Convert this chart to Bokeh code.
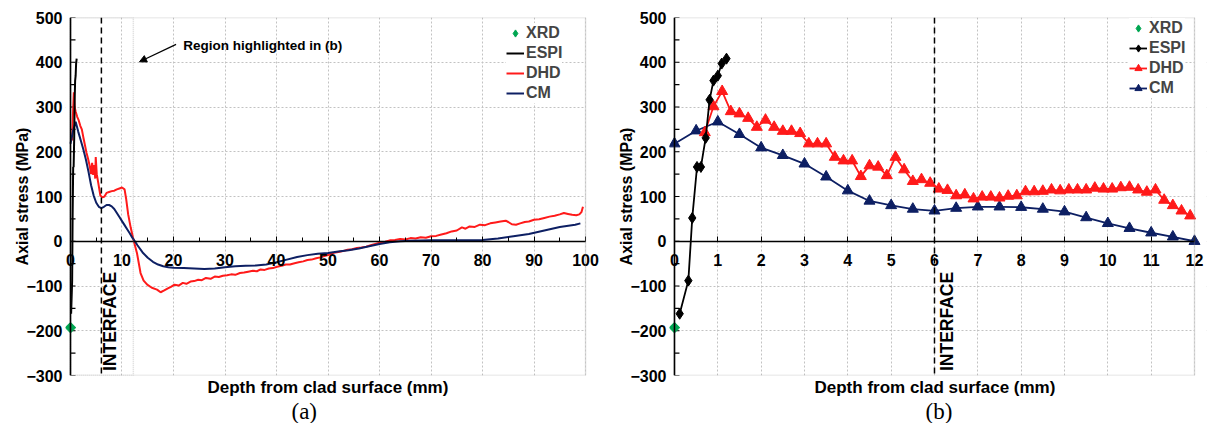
from bokeh.plotting import figure
from bokeh.models import (Span, Label, Legend, LegendItem, Arrow, NormalHead,
                          SingleIntervalTicker, BoxAnnotation, Title)
from bokeh.layouts import row
from bokeh.embed import file_html
from bokeh.resources import INLINE

# ---------------- data ----------------
xrd_depth = [0.0]
xrd_stress = [-193]

espi_depth = [0.12, 0.32, 0.41, 0.52, 0.61, 0.72, 0.81, 0.90, 1.00, 1.09, 1.20]
espi_stress = [-162, -88, 52, 166, 166, 231, 316, 359, 370, 397, 408]

# panel (b) DHD (every 0.2 mm)
dhd_b_depth = [0.7, 0.9, 1.1, 1.3, 1.5, 1.7, 1.9, 2.1, 2.3, 2.5,
               2.7, 2.9, 3.1, 3.3, 3.5, 3.7, 3.9, 4.1, 4.3, 4.5,
               4.7, 4.9, 5.1, 5.3, 5.5, 5.7, 5.9, 6.1, 6.3, 6.5,
               6.7, 6.9, 7.1, 7.3, 7.5, 7.7, 7.9, 8.1, 8.3, 8.5,
               8.7, 8.9, 9.1, 9.3, 9.5, 9.7, 9.9, 10.1, 10.3, 10.5,
               10.7, 10.9, 11.1, 11.3, 11.5, 11.7, 11.9]
dhd_b_stress = [243, 301, 335, 290, 285, 275, 255, 271, 255, 246,
                246, 241, 218, 218, 218, 188, 180, 180, 145, 169,
                166, 147, 188, 160, 134, 138, 130, 117, 114, 102,
                104, 95, 99, 99, 97, 101, 102, 111, 111, 112,
                115, 113, 115, 115, 115, 119, 117, 117, 120, 121,
                115, 110, 115, 92, 80, 68, 57]

# panel (b) CM (every 0.5 mm)
cm_b_depth = [0.0, 0.5, 1.0, 1.5, 2.0, 2.5, 3.0, 3.5, 4.0, 4.5, 5.0, 5.5, 6.0,
              6.5, 7.0, 7.5, 8.0, 8.5, 9.0, 9.5, 10.0, 10.5, 11.0, 11.5, 12.0]
cm_b_stress = [218, 247, 267, 239, 209, 192, 173, 144, 113, 90, 80, 72, 68,
               74, 77, 77, 76, 72, 66, 53, 40, 29, 19, 10, 0]

# panel (a) DHD (full depth)
dhd_a_depth = [0.3, 0.5, 0.65, 0.8, 1.0, 1.3, 1.6, 1.9, 2.2, 2.5,
               2.8, 3.1, 3.4, 3.7, 4.0, 4.2, 4.4, 4.6, 4.8, 4.9,
               5.1, 5.4, 5.8, 6.2, 6.6, 7.0, 7.5, 8.0, 8.5, 9.0,
               9.5, 10.0, 10.5, 10.8, 11.2, 11.7, 12.3, 12.9, 13.6, 14.2,
               14.9, 15.8, 16.8, 17.5, 18.2, 19.0, 19.5, 20.2, 21.0, 21.8,
               22.5, 23.3, 24.0, 24.8, 25.5, 26.3, 27.2, 28.0, 28.8, 29.6,
               30.4, 31.2, 32.0, 32.9, 33.7, 34.5, 35.4, 36.2, 36.9, 37.7,
               38.5, 39.3, 40.1, 41.0, 41.8, 42.6, 43.5, 44.3, 45.2, 46.0,
               46.8, 47.7, 48.5, 49.3, 50.2, 51.1, 52.0, 52.9, 53.8, 54.7,
               55.6, 56.5, 57.4, 58.3, 59.2, 60.2, 61.1, 62.0, 63.0, 64.0,
               65.0, 66.0, 67.0, 68.0, 69.0, 70.0, 71.0, 72.0, 73.0, 74.0,
               75.0, 76.0, 76.7, 77.5, 78.5, 79.5, 80.5, 81.5, 82.5, 83.5,
               84.5, 85.0, 85.7, 86.5, 87.3, 88.2, 89.0, 90.0, 91.0, 92.0,
               93.0, 94.0, 95.0, 95.8, 96.6, 97.4, 98.2, 98.8, 99.2, 99.5]
dhd_a_stress = [225, 290, 333, 300, 290, 278, 270, 258, 250, 232,
                215, 198, 185, 170, 150, 175, 148, 170, 140, 188,
                150, 130, 102, 98, 100, 108, 110, 112, 113, 116,
                118, 120, 116, 95, 60, 30, 0, -26, -71, -88,
                -97, -104, -108, -114, -110, -105, -102, -97, -99, -93,
                -95, -90, -89, -86, -87, -82, -84, -79, -80, -77,
                -76, -74, -75, -71, -70, -68, -66, -67, -63, -64,
                -61, -60, -57, -55, -52, -52, -49, -47, -45, -42,
                -41, -38, -36, -33, -30, -26, -24, -22, -19, -18,
                -15, -14, -12, -9, -6, -3, -1, 2, 3, 5,
                4, 7, 6, 9, 8, 11, 12, 15, 18, 22,
                24, 31, 28, 33, 32, 37, 36, 40, 42, 44,
                46, 43, 38, 37, 40, 43, 44, 48, 49, 52,
                55, 57, 60, 63, 61, 59, 58, 60, 65, 77]

# panel (a) CM (full depth)
cm_a_depth = [0, 0.5, 1.0, 1.5, 2.0, 2.5, 3.0, 3.5, 4.0, 4.5,
              5.0, 5.5, 6.0, 6.5, 7.0, 7.5, 8.0, 8.5, 9.0, 9.5,
              10.0, 10.5, 11.0, 11.5, 12.0, 12.5, 13, 14, 15, 16,
              17, 18, 19, 20, 22, 24, 26, 28, 30, 32,
              34, 36, 38, 40, 42, 44, 46, 48, 50, 52,
              54, 56, 58, 60, 62, 64, 66, 70, 75, 80,
              83, 86, 89, 92, 95, 98, 99]
cm_a_stress = [218, 247, 267, 245, 225, 205, 182, 155, 125, 102,
               86, 77, 74, 77, 81, 81, 78, 72, 63, 54,
               45, 36, 27, 18, 8, 0, -9, -25, -37, -46,
               -52, -56, -58, -59, -60, -61, -62, -61, -58, -56,
               -55, -54, -52, -47, -41, -35, -31, -28, -26, -23,
               -20, -16, -11, -6, -2, 0, 1, 2, 2, 3,
               6, 11, 16, 24, 32, 37, 40]

interface_depth = 6
region_b = [0, 12.2]  # depth window shown in (b)
xlim_a = [0, 100]
xlim_b = [0, 12]
ylim = [-300, 500]
y_ticks_all = list(range(-300, 501, 50))

# ---------------- styling ----------------
FONT = "Liberation Sans"
SERIF = "Liberation Serif"
GREEN = "#00a651"
RED = "#ff1a1a"
NAVY = "#0d1f63"
GRID = "#c2c2c2"
FRAME = "#8c8c8c"


def make_fig(width, left_border, right_border, xlim, pad_left, pad_right, x_interval, x_minor):
    p = figure(width=width, height=423,
               x_range=(xlim[0] - pad_left, xlim[1] + pad_right),
               y_range=(ylim[0], ylim[1]),
               output_backend="svg", toolbar_location=None,
               min_border_left=left_border, min_border_right=right_border,
               min_border_top=17, min_border_bottom=46)
    xt = SingleIntervalTicker(interval=x_interval, num_minor_ticks=x_minor)
    yt = SingleIntervalTicker(interval=100, num_minor_ticks=2)
    p.xaxis.ticker = xt
    p.xgrid.ticker = xt
    p.yaxis.ticker = yt
    p.ygrid.ticker = yt
    p.xaxis.fixed_location = 0
    p.xaxis.bounds = (xlim[0], xlim[1])
    for ax in (p.xaxis[0], p.yaxis[0]):
        ax.axis_line_color = "black"
        ax.axis_line_width = 1.5
        ax.major_tick_in = 5
        ax.major_tick_out = 0
        ax.minor_tick_in = 4
        ax.minor_tick_out = 0
        ax.major_tick_line_color = "black"
        ax.minor_tick_line_color = "black"
        ax.major_label_text_font = FONT
        ax.major_label_text_font_style = "bold"
        ax.major_label_text_font_size = "16px"
        ax.major_label_text_color = "black"
    if x_minor == 0:
        p.xaxis.minor_tick_line_color = None
    # y axis drawn at depth 0 by a span + tick segments; keep only its labels
    p.yaxis.axis_line_color = None
    p.yaxis.major_tick_line_color = None
    p.yaxis.minor_tick_line_color = None
    p.xaxis.major_label_standoff = 13
    p.yaxis.major_label_standoff = 3
    p.yaxis.axis_label = "Axial stress (MPa)"
    p.yaxis.axis_label_text_font = FONT
    p.yaxis.axis_label_text_font_style = "bold"
    p.yaxis.axis_label_text_font_size = "16px"
    p.yaxis.axis_label_text_color = "black"
    p.yaxis.axis_label_standoff = -8
    for g in (p.xgrid[0], p.ygrid[0]):
        g.grid_line_color = GRID
        g.grid_line_dash = "2 2"
        g.grid_line_width = 1
    p.outline_line_color = None
    p.background_fill_color = "white"
    p.border_fill_color = "white"
    # blank strips outside the data area (kept so end labels/markers are not cut)
    p.add_layout(BoxAnnotation(left=xlim[1], fill_color="white", fill_alpha=1,
                               line_color=None, level="underlay"))
    p.add_layout(BoxAnnotation(right=xlim[0], fill_color="white", fill_alpha=1,
                               line_color=None, level="underlay"))
    # plot frame
    p.add_layout(BoxAnnotation(left=xlim[0], right=xlim[1], bottom=ylim[0], top=ylim[1],
                               fill_alpha=0, line_color=FRAME, line_width=1.4))
    return p


def add_y_axis(p, tick_len):
    n = len(y_ticks_all)
    p.segment(x0=[0] * n, y0=y_ticks_all, x1=[tick_len] * n, y1=y_ticks_all,
              line_color="black", line_width=1.2)
    p.add_layout(Span(location=0, dimension="height", line_color="black", line_width=1.6))


def add_xrd(p):
    # rotated square gives an even diamond in the plot; the diamond glyph underneath
    # (fully covered) provides the legend key
    key = p.scatter(xrd_depth, xrd_stress, marker="diamond", size=10, color=GREEN)
    p.scatter(xrd_depth, xrd_stress, marker="square", angle=0.785398, size=7.5, color=GREEN)
    return key


def add_bottom_titles(p, xoff, coff, cap):
    p.add_layout(Title(text="Depth from clad surface (mm)", align="left", offset=xoff,
                       standoff=0, text_font=FONT, text_font_style="bold",
                       text_font_size="17px", text_color="black"), "below")
    p.add_layout(Title(text=cap, align="left", offset=coff, standoff=0,
                       text_font=SERIF, text_font_style="normal",
                       text_font_size="23px", text_color="black"), "below")


def style_legend(lg, gh, pad):
    lg.label_text_font = FONT
    lg.label_text_font_style = "bold"
    lg.label_text_font_size = "16px"
    lg.glyph_width = 18
    lg.glyph_height = gh
    lg.label_height = gh
    lg.label_standoff = 2
    lg.spacing = 0
    lg.padding = pad
    lg.margin = 0
    lg.border_line_color = None
    lg.background_fill_color = "white"
    lg.background_fill_alpha = 1


# ---------------- panel (a) ----------------
p1 = make_fig(601, 65, 0, xlim_a, 0.97, 3.1, 10, 2)

p1.add_layout(BoxAnnotation(left=region_b[0], right=region_b[1], bottom=ylim[0], top=ylim[1],
                            fill_alpha=0, line_color="#808080", line_dash="1 1",
                            line_width=1.5))
p1.add_layout(Span(location=interface_depth, dimension="height", line_color="black",
                   line_dash="6 4", line_width=1.5))
add_y_axis(p1, 0.97)

a_dhd = p1.line(dhd_a_depth, dhd_a_stress, color=RED, line_width=2)
a_cm = p1.line(cm_a_depth, cm_a_stress, color=NAVY, line_width=2)
a_espi = p1.line(espi_depth, espi_stress, color="black", line_width=2)
a_xrd = add_xrd(p1)

lg1 = Legend(items=[LegendItem(label="XRD", renderers=[a_xrd]),
                    LegendItem(label="ESPI", renderers=[a_espi]),
                    LegendItem(label="DHD", renderers=[a_dhd]),
                    LegendItem(label="CM", renderers=[a_cm])],
             location=(441, 272))
style_legend(lg1, 20, 4)
p1.add_layout(lg1)

p1.add_layout(Label(x=7.75, y=-290, text="INTERFACE", angle=1.5708,
                    text_align="left", text_baseline="middle", text_font=FONT,
                    text_font_style="bold", text_font_size="17.5px", text_color="black"))
p1.add_layout(Label(x=21.9, y=437, text="Region highlighted in (b)",
                    text_align="left", text_baseline="middle", text_font=FONT,
                    text_font_style="bold", text_font_size="13.5px", text_color="black"))
p1.add_layout(Arrow(end=NormalHead(size=7, fill_color="black", line_color="black"),
                    x_start=20.5, y_start=440, x_end=13.4, y_end=401,
                    line_color="black", line_width=1.2))
add_bottom_titles(p1, 142, 226, "(a)")

# ---------------- panel (b) ----------------
p2 = make_fig(612, 68, 7, xlim_b, 0.115, 0.277, 1, 0)
p2.add_layout(Span(location=interface_depth, dimension="height", line_color="black",
                   line_dash="6 4", line_width=1.5))
add_y_axis(p2, 0.115)

b_cm_l = p2.line(cm_b_depth, cm_b_stress, color=NAVY, line_width=1.8)
b_cm_m = p2.scatter(cm_b_depth, cm_b_stress, marker="triangle", size=11, color=NAVY)
b_dhd_l = p2.line(dhd_b_depth, dhd_b_stress, color=RED, line_width=1.8)
b_dhd_m = p2.scatter(dhd_b_depth, dhd_b_stress, marker="triangle", size=11, color=RED)
b_espi_l = p2.line(espi_depth, espi_stress, color="black", line_width=1.8)
b_espi_m = p2.scatter(espi_depth, espi_stress, marker="diamond", size=11, color="black")
b_xrd = add_xrd(p2)

lg2 = Legend(items=[LegendItem(label="XRD", renderers=[b_xrd]),
                    LegendItem(label="ESPI", renderers=[b_espi_l, b_espi_m]),
                    LegendItem(label="DHD", renderers=[b_dhd_l, b_dhd_m]),
                    LegendItem(label="CM", renderers=[b_cm_l, b_cm_m])],
             location=(460, 277))
style_legend(lg2, 20, 0)
p2.add_layout(lg2)

p2.add_layout(Label(x=6.28, y=-290, text="INTERFACE", angle=1.5708,
                    text_align="left", text_baseline="middle", text_font=FONT,
                    text_font_style="bold", text_font_size="17.5px", text_color="black"))
add_bottom_titles(p2, 145, 256, "(b)")

layout = row(p1, p2)
open("out.html", "w").write(file_html(layout, INLINE))
